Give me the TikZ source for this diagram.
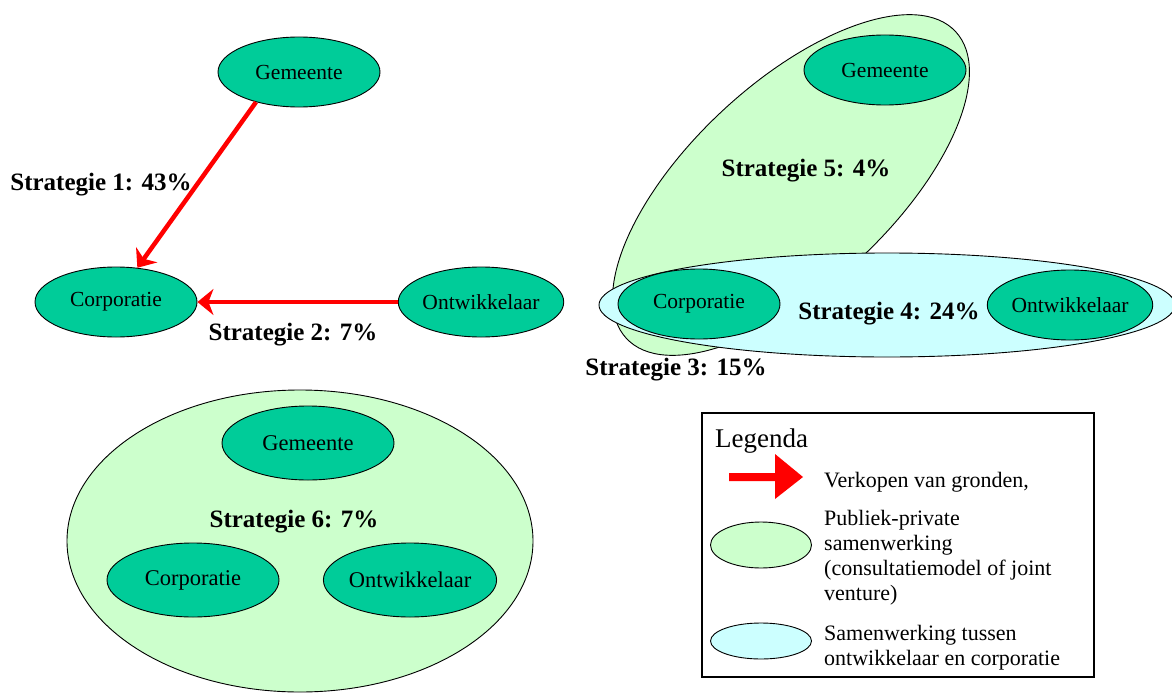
\documentclass[tikz,border=0pt]{standalone}
\usepackage{fontspec}
\setmainfont{Liberation Serif}
\usetikzlibrary{shapes.geometric,arrows.meta}
\definecolor{actorfill}{HTML}{00CC99}
\definecolor{ppsfill}{HTML}{CCFFCC}
\definecolor{coopfill}{HTML}{CCFFFF}
\definecolor{sellred}{HTML}{FF0000}

\begin{document}
\begin{tikzpicture}[x=1pt,y=-1pt,
  actor/.style={ellipse, draw=black, line width=0.9pt, fill=actorfill, inner sep=0pt,
    minimum width=162pt, minimum height=70pt, font=\fontsize{21.5}{24}\selectfont},
  bigactor/.style={actor, minimum width=172pt, minimum height=74pt,
    font=\fontsize{22.5}{26}\selectfont},
  pps/.style={ellipse, draw=black, line width=0.9pt, fill=ppsfill, inner sep=0pt},
  coop/.style={ellipse, draw=black, line width=0.9pt, fill=coopfill, inner sep=0pt},
  stratlabel/.style={anchor=base, inner sep=0pt, font=\fontsize{25}{28}\selectfont\bfseries},
  sale/.style={draw=sellred, line width=4.5pt, -{Stealth[length=16pt,width=26pt,inset=5pt]}},
  legtext/.style={anchor=base west, inner sep=0pt, font=\fontsize{22}{25}\selectfont},
]
\useasboundingbox (0,0) rectangle (1172,693);

% Strategies 1 and 2: selling land
\node[actor] (gem1) at (299,72) {Gemeente};
\node[actor] (corp1) at (116,302) {Corporatie};
\node[actor] (ont1) at (481,302) {Ontwikkelaar};
\draw[sale] (gem1.215.5) -- (corp1.58);
\draw[sale] (ont1.west) -- (corp1.east);
\node[stratlabel] (s1) at (101,190) {Strategie 1: 43\%};
\node[stratlabel] (s2) at (293,340) {Strategie 2: 7\%};

% Strategies 3, 4 and 5: overlapping partnerships
\node[pps, minimum width=450pt, minimum height=202pt, rotate=43] (pps5) at (791,185) {};
\node[coop, minimum width=576pt, minimum height=104pt] (coop4) at (887,305) {};
\node[actor] (gem5) at (885,70) {Gemeente};
\node[actor] (corp4) at (699,304) {Corporatie};
\node[actor] (ont4) at (1070,305) {Ontwikkelaar};
\node[stratlabel] (s5) at (806,176) {Strategie 5: 4\%};
\node[stratlabel] (s4) at (889,319) {Strategie 4: 24\%};
\node[stratlabel] (s3) at (676,375) {Strategie 3: 15\%};

% Strategy 6: all three parties together
\node[pps, minimum width=466pt, minimum height=302pt] (pps6) at (300,541) {};
\node[bigactor] (gem6) at (308,443) {Gemeente};
\node[bigactor] (corp6) at (193,580) {Corporatie};
\node[bigactor] (ont6) at (410,580) {Ontwikkelaar};
\node[stratlabel] (s6) at (294,527) {Strategie 6: 7\%};

% Legend
\node[draw=black, line width=2.5pt, minimum width=392pt, minimum height=264pt,
  inner sep=0pt] (legend) at (898,545) {};
\node[anchor=base west, inner sep=0pt, font=\fontsize{27}{30}\selectfont] (legtitle)
  at (715,447) {Legenda};
\fill[sellred] (729,473) -- (775,473) -- (775,454) -- (803,477) -- (775,499)
  -- (775,481) -- (729,481) -- cycle;
\node[legtext] (leg1) at (824,487) {Verkopen van gronden,};
\node[pps, minimum width=101pt, minimum height=46pt] (legpps) at (761,545) {};
\node[legtext] (leg2a) at (824,525) {Publiek-private};
\node[legtext] (leg2b) at (824,550) {samenwerking};
\node[legtext] (leg2c) at (824,575) {(consultatiemodel of joint};
\node[legtext] (leg2d) at (824,600) {venture)};
\node[coop, minimum width=101pt, minimum height=36pt] (legcoop) at (761,641) {};
\node[legtext] (leg3a) at (824,640) {Samenwerking tussen};
\node[legtext] (leg3b) at (824,665) {ontwikkelaar en corporatie};
\end{tikzpicture}
\end{document}
